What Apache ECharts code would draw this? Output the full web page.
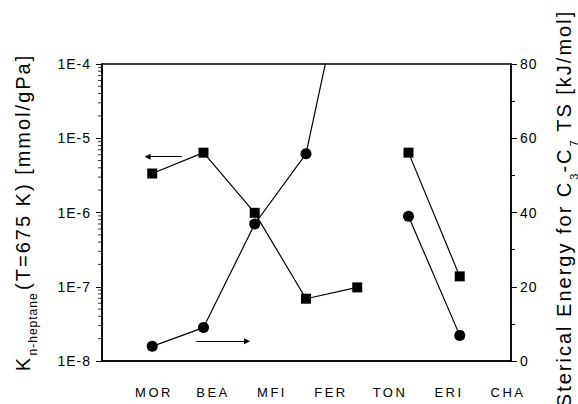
<!DOCTYPE html>
<html>
<head>
<meta charset="utf-8">
<script src="https://cdn.jsdelivr.net/npm/echarts@6/dist/echarts.min.js"></script>
<style>
  html, body { margin: 0; padding: 0; background: #fff; }
  #chart { width: 578px; height: 404px; }
</style>
</head>
<body>
<div id="chart"></div>
<script>
// ---- data ----
const categories = ['MOR', 'BEA', 'MFI', 'FER', 'TON', 'ERI', 'CHA'];
const pointIndex = [0, 1, 2, 3, 4, 5, 6];
const kHeptane = [3.35e-6, 6.4e-6, 9.9e-7, 6.9e-8, 9.8e-8, 6.4e-6, 1.38e-7];   // left log axis
const stericEnergy = [3.95, 9.0, 36.9, 55.8, 120, 39.0, 6.9];                  // right axis (kJ/mol)
const breakAfter = 4;                 // no line between point 4 and point 5
const logTicks = [1e-8, 1e-7, 1e-6, 1e-5, 1e-4];
const minorMultipliers = [2, 3, 4, 5, 6, 7, 8, 9];
const rightTicks = [0, 20, 40, 60, 80];
const arrowLeft = [[-0.09, 5.65e-6], [0.58, 5.65e-6]];   // points to left axis
const arrowRight = [[0.86, 5.3], [1.85, 5.3]];           // points to right axis

// ---- build ----
function withBreak(xs, ys) {
  const out = [];
  xs.forEach((x, i) => {
    if (i === breakAfter + 1) out.push([x - 0.5, '-']);
    out.push([x, ys[i]]);
  });
  return out;
}
const minorData = [];
logTicks.slice(0, -1).forEach(d => minorMultipliers.forEach(m => minorData.push([-0.98, d * m])));

const FONT = "'Liberation Sans', Arial, Helvetica, sans-serif";
const SPACING = { 12: 1, 13: 2.5, 14: 1, 20: 2 };
const chart = echarts.init(document.getElementById('chart'), null, { renderer: 'svg' });

function applySpacing() {
  document.querySelectorAll('#chart svg text').forEach(t => {
    const fs = Math.round(parseFloat(getComputedStyle(t).fontSize));
    const s = SPACING[fs];
    if (s) t.setAttribute('letter-spacing', s + 'px');
  });
}

const axisLineStyle = { show: true, onZero: false, lineStyle: { color: '#000', width: 1.5 } };
const big = { fontSize: 20, lineHeight: 24, verticalAlign: 'top', color: '#000', fontFamily: FONT };
const option = {
  animation: false,
  backgroundColor: '#ffffff',
  grid: [
    { left: 102, top: 64, width: 409, height: 297, show: true, borderColor: '#000', borderWidth: 1.5,
      backgroundColor: 'transparent', containLabel: false, outerBoundsMode: 'none' },
    { left: 154, top: 64, width: 354, height: 297, show: false, containLabel: false, outerBoundsMode: 'none' }
  ],
  xAxis: [
    { type: 'value', gridIndex: 0, min: -0.98, max: 7,
      axisLine: axisLineStyle,
      axisTick: { show: false }, axisLabel: { show: false }, splitLine: { show: false } },
    { type: 'category', gridIndex: 1, data: categories, boundaryGap: false,
      axisLine: { show: false, onZero: false }, axisTick: { show: false }, splitLine: { show: false },
      axisLabel: { interval: 0, margin: 25, fontSize: 13, color: '#000', fontFamily: FONT } }
  ],
  yAxis: [
    { type: 'log', logBase: 10, gridIndex: 0, min: logTicks[0], max: logTicks[logTicks.length - 1], position: 'left',
      axisLine: axisLineStyle,
      axisTick: { show: true, inside: false, length: 6, lineStyle: { color: '#000', width: 1 } },
      splitLine: { show: false },
      axisLabel: { color: '#000', fontSize: 14, fontFamily: FONT, margin: 11,
        formatter: v => '1E' + Math.round(Math.log10(v)) },
      name: '{m|K}{s|n-heptane}{e|(T=675 K) [mmol/gPa]}',
      nameLocation: 'middle', nameRotate: 90, nameGap: 65,
      nameTextStyle: {
        color: '#000', fontFamily: FONT,
        rich: {
          m: Object.assign({}, big, { padding: [0, 1, 0, 1] }),
          s: { fontSize: 12, lineHeight: 12, verticalAlign: 'top', padding: [14, 7, 0, 5], color: '#000', fontFamily: FONT },
          e: Object.assign({}, big, { padding: [0, 20, 0, 20] })
        }
      }
    },
    { type: 'value', gridIndex: 0, min: rightTicks[0], max: rightTicks[rightTicks.length - 1], interval: 20, position: 'right',
      axisLine: axisLineStyle,
      axisTick: { show: true, inside: false, length: 6, lineStyle: { color: '#000', width: 1 } },
      minorTick: { show: true, splitNumber: 2, length: 4, lineStyle: { color: '#000', width: 1 } },
      splitLine: { show: false },
      axisLabel: { color: '#000', fontSize: 14, fontFamily: FONT, margin: 9 },
      name: '{a|Sterical Energy for C}{s|3}{n|-C}{s|7}{e|\u00a0TS [kJ/mol]}',
      nameLocation: 'middle', nameRotate: 90, nameGap: 43,
      nameTextStyle: {
        color: '#000', fontFamily: FONT,
        rich: {
          a: Object.assign({}, big, { padding: [0, 21, 0, 29] }),
          s: { fontSize: 11, lineHeight: 11, verticalAlign: 'top', padding: [14, 1, 0, 1], color: '#000', fontFamily: FONT },
          n: Object.assign({}, big, { padding: [0, 2, 0, 2] }),
          e: Object.assign({}, big, { padding: [0, 12, 0, 12] })
        }
      }
    },
    { type: 'value', gridIndex: 1, show: false, min: 0, max: 1, axisLine: { show: false, onZero: false } }
  ],
  series: [
    { name: 'K n-heptane', type: 'line', xAxisIndex: 0, yAxisIndex: 0,
      data: withBreak(pointIndex, kHeptane), connectNulls: false,
      symbol: 'rect', symbolSize: 10, showAllSymbol: true,
      lineStyle: { color: '#000', width: 1.2 }, itemStyle: { color: '#000' },
      markLine: { silent: true, animation: false, symbol: ['triangle', 'none'], symbolSize: 6,
        lineStyle: { color: '#000', width: 1, type: 'solid' }, label: { show: false },
        data: [[{ coord: arrowLeft[0] }, { coord: arrowLeft[1] }]] } },
    { name: 'Sterical energy', type: 'line', xAxisIndex: 0, yAxisIndex: 1,
      data: withBreak(pointIndex, stericEnergy), connectNulls: false, clip: true,
      symbol: 'circle', symbolSize: 11, showAllSymbol: true,
      lineStyle: { color: '#000', width: 1.2 }, itemStyle: { color: '#000' },
      markLine: { silent: true, animation: false, symbol: ['none', 'triangle'], symbolSize: 6,
        lineStyle: { color: '#000', width: 1, type: 'solid' }, label: { show: false },
        data: [[{ coord: arrowRight[0] }, { coord: arrowRight[1] }]] } },
    { name: 'minor ticks', type: 'scatter', xAxisIndex: 0, yAxisIndex: 0, silent: true, clip: false,
      data: minorData, symbol: 'rect', symbolSize: [4, 1], symbolOffset: [-2, 0],
      itemStyle: { color: '#000' } }
  ]
};
chart.on('finished', applySpacing);
chart.setOption(option);
applySpacing();
</script>
</body>
</html>
